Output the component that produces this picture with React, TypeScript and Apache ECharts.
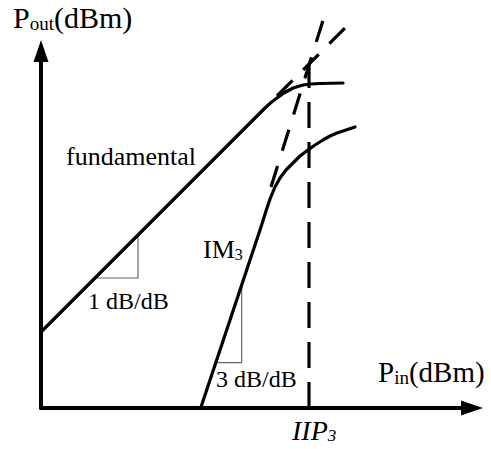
import React, { useEffect, useRef } from 'react';
import * as echarts from 'echarts';

// ---- data (Pin, Pout) in arbitrary dB units ----
const fundamental = [[0, 7.6], [22.4, 30.0], [23.0, 30.55], [23.6, 31.0], [24.3, 31.5], [25.2, 32.0], [26.2, 32.3], [27.0, 32.4], [27.9, 32.45], [30.2, 32.5]];
const fundamentalExtrap = [[23.6, 31.2], [30.6, 38.2]];
const im3 = [[15.97, 0], [22.0, 18.1], [22.5, 19.7], [22.9, 20.9], [23.4, 22.1], [23.9, 23.0], [24.5, 23.8], [25.2, 24.5], [25.9, 25.2], [26.7, 25.8], [27.4, 26.3], [28.2, 26.8], [28.9, 27.2], [29.6, 27.5], [30.5, 27.8], [31.4, 28.1]];
const im3Extrap = [[23.0, 22.1], [26.8, 34.3], [28.4, 39.4]];
const iip3Marker = [[26.8, 0], [26.8, 34.3]];
const slope1Triangle = [[5.6, 13.0], [9.7, 13.0], [9.7, 17.2]];
const slope3Triangle = [[17.57, 4.53], [20.07, 4.53], [20.07, 12.3]];

// ---- texts ----
const yTitle = ['P', 'out', '(dBm)'];
const xTitle = ['P', 'in', '(dBm)'];
const fundamentalText = ['fundamental'];
const im3Text = ['IM', '3'];
const slope1Text = ['1 dB/dB'];
const slope3Text = ['3 dB/dB'];
const iip3Text = ['IIP', '3'];

const FONT = '"Liberation Serif", "Times New Roman", serif';

type Label = { parts: string[]; at: number[]; size: number; sub?: number; drop?: number; italic?: boolean };

const labels: Label[] = [
  { parts: yTitle, at: [-2.8, 38.0], size: 30, sub: 19, drop: 4 },
  { parts: xTitle, at: [33.7, 2.6], size: 29, sub: 19, drop: 4 },
  { parts: fundamentalText, at: [2.5, 24.3], size: 26 },
  { parts: im3Text, at: [16.2, 15.0], size: 26, sub: 16, drop: 3.5 },
  { parts: slope1Text, at: [4.7, 9.9], size: 24 },
  { parts: slope3Text, at: [17.5, 2.1], size: 24 },
  { parts: iip3Text, at: [25.1, -3.2], size: 28, sub: 17, drop: 4, italic: true },
];

function lineSeries(data: number[][], opts: any = {}) {
  return {
    type: 'line',
    data,
    symbol: 'none',
    showSymbol: false,
    clip: false,
    silent: true,
    smooth: false,
    lineStyle: {
      color: opts.color ?? '#000',
      width: opts.width ?? 3.2,
      type: opts.dash ?? 'solid',
      cap: opts.dash ? 'butt' : 'round',
      join: 'round',
    },
    z: opts.z ?? 2,
  };
}

export default function App() {
  const ref = useRef<HTMLDivElement>(null);
  useEffect(() => {
    const chart = echarts.init(ref.current!, null, { renderer: 'svg' });
    const axisCommon = {
      type: 'value',
      min: 0,
      axisLine: {
        show: true,
        lineStyle: { color: '#000', width: 4 },
        symbol: ['none', 'triangle'],
        symbolSize: [15, 22],
      },
      axisTick: { show: false },
      axisLabel: { show: false },
      splitLine: { show: false },
    };
    chart.setOption({
      animation: false,
      backgroundColor: '#fff',
      grid: { left: 41, right: 19, top: 51, bottom: 41 },
      xAxis: { ...axisCommon, max: 43.1 },
      yAxis: { ...axisCommon, max: 35.7 },
      series: [
        lineSeries(fundamental),
        lineSeries(fundamentalExtrap, { dash: [22, 15] }),
        lineSeries(im3),
        lineSeries(im3Extrap, { dash: [22, 16] }),
        lineSeries(iip3Marker, { dash: [26, 14] }),
        lineSeries(slope1Triangle, { color: '#666', width: 1.2, z: 1 }),
        lineSeries(slope3Triangle, { color: '#666', width: 1.2, z: 1 }),
      ],
    });

    const graphics = labels.map((l) => {
      const [px, py] = chart.convertToPixel({ gridIndex: 0 }, l.at) as number[];
      const fontStyle = l.italic ? 'italic' : 'normal';
      const main = { fontSize: l.size, fontFamily: FONT, fontStyle, lineHeight: l.size, fill: '#000' };
      const rich: any = { m: main };
      let text = '';
      if (l.parts.length === 1) {
        text = `{m|${l.parts[0]}}`;
      } else {
        const sub = l.sub ?? 16;
        const drop = l.drop ?? 4;
        const h = 0.32 * l.size + 0.68 * sub - 2 * drop;
        rich.s = { fontSize: sub, fontFamily: FONT, fontStyle, lineHeight: h, verticalAlign: 'bottom', fill: '#000' };
        text = l.parts.map((p, i) => (i === 1 ? `{s|${p}}` : `{m|${p}}`)).join('');
      }
      return {
        type: 'text',
        x: px,
        y: py - 0.34 * l.size,
        silent: true,
        style: { text, rich, align: 'left', verticalAlign: 'middle', fill: '#000', fontFamily: FONT, fontSize: l.size },
      };
    });
    chart.setOption({ graphic: graphics });
    return () => chart.dispose();
  }, []);
  return <div ref={ref} style={{ position: 'fixed', left: 0, top: 0, width: 491, height: 449, background: '#fff' }} />;
}
